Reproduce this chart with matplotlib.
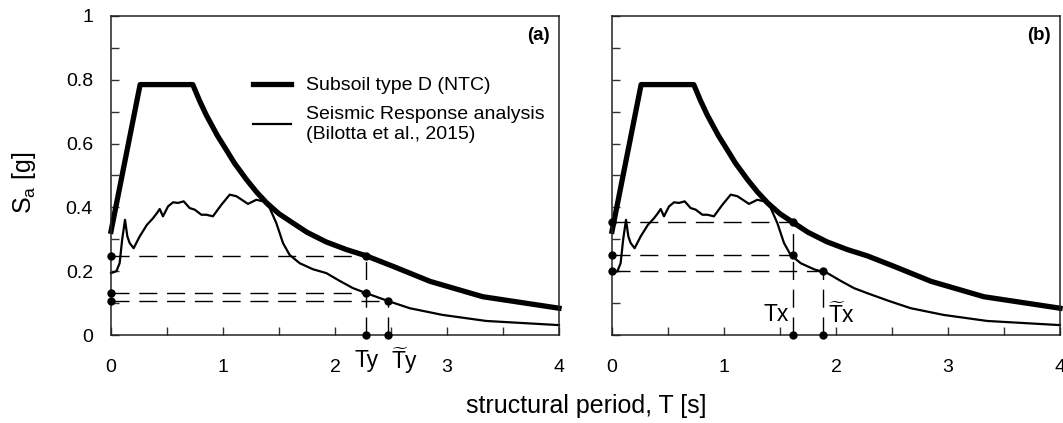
import matplotlib
matplotlib.use("Agg")
import matplotlib.pyplot as plt
from matplotlib.ticker import MultipleLocator, FixedLocator

plt.rcParams['font.family'] = ['Liberation Sans', 'DejaVu Sans']
plt.rcParams['mathtext.fontset'] = 'custom'
plt.rcParams['mathtext.rm'] = 'Liberation Sans'
plt.rcParams['mathtext.it'] = 'Liberation Sans'

# NTC design spectrum, subsoil type D
ntc_T = [0.0, 0.26, 0.73, 0.79, 0.85, 0.95, 1.03, 1.1, 1.21, 1.3, 1.39, 1.5, 1.62,
         1.75, 1.92, 2.1, 2.28, 2.52, 2.85, 3.32, 4.0]
ntc_Sa = [0.325, 0.785, 0.785, 0.735, 0.690, 0.625, 0.580, 0.540, 0.487, 0.448, 0.414,
          0.380, 0.352, 0.322, 0.292, 0.268, 0.248, 0.215, 0.168, 0.120, 0.084]

# Seismic response analysis (Bilotta et al., 2015)
sra_T = [0.0, 0.048, 0.077, 0.10, 0.125, 0.146, 0.167, 0.202, 0.256, 0.32, 0.375,
         0.41, 0.435, 0.464, 0.509, 0.554, 0.598, 0.649, 0.702, 0.747, 0.807,
         0.851, 0.91, 0.985, 1.06, 1.12, 1.223, 1.298, 1.357, 1.417, 1.476,
         1.536, 1.595, 1.685, 1.804, 1.923, 2.04, 2.16, 2.28, 2.47, 2.667,
         2.96, 3.35, 4.0]
sra_Sa = [0.194, 0.200, 0.225, 0.300, 0.361, 0.309, 0.288, 0.272, 0.309, 0.345,
          0.366, 0.382, 0.395, 0.372, 0.403, 0.416, 0.414, 0.419, 0.398, 0.393,
          0.377, 0.377, 0.372, 0.408, 0.440, 0.435, 0.411, 0.424, 0.419, 0.398,
          0.351, 0.288, 0.251, 0.225, 0.206, 0.194, 0.170, 0.147, 0.131, 0.107,
          0.084, 0.063, 0.044, 0.031]

# Panel (a): y-direction periods
Ty, Ty_t = 2.28, 2.47
Sa_ntc_Ty, Sa_sra_Ty, Sa_sra_Tyt = 0.248, 0.131, 0.107
# Panel (b): x-direction periods
Tx, Tx_t = 1.617, 1.88
Sa_ntc_Tx, Sa_sra_Tx, Sa_sra_Txt = 0.354, 0.252, 0.200

x_major = [0, 1, 2, 3, 4]
y_major = [0, 0.2, 0.4, 0.6, 0.8, 1.0]
y_labels = ['0', '0.2', '0.4', '0.6', '0.8', '1']

fig = plt.figure(figsize=(10.63, 4.23), dpi=100)
W, H = 1063, 423
ax_a = fig.add_axes([111 / W, (H - 335) / H, 448 / W, 319 / H])
ax_b = fig.add_axes([612 / W, (H - 335) / H, 448 / W, 319 / H])

dash_kw = dict(color='black', lw=1.0, dashes=(13, 7))
dot_kw = dict(marker='o', color='black', markersize=5, linestyle='none', clip_on=False, zorder=5)

for ax in (ax_a, ax_b):
    ax.plot(ntc_T, ntc_Sa, color='black', lw=3.8, solid_joinstyle='round',
            label='Subsoil type D (NTC)', clip_on=False)
    ax.plot(sra_T, sra_Sa, color='black', lw=1.6,
            label='Seismic Response analysis\n(Bilotta et al., 2015)', clip_on=False)
    ax.set_xlim(0, 4)
    ax.set_ylim(0, 1)
    ax.xaxis.set_major_locator(FixedLocator(x_major))
    ax.xaxis.set_minor_locator(MultipleLocator(0.5))
    ax.yaxis.set_major_locator(FixedLocator(y_major))
    ax.yaxis.set_minor_locator(MultipleLocator(0.1))
    ax.tick_params(which='both', direction='in', length=6, width=1.0, color='#333333',
                   labelsize=14)
    ax.tick_params(axis='x', which='major', pad=17)
    ax.tick_params(axis='y', which='major', pad=13)
    for s in ax.spines.values():
        s.set_linewidth(1.1)
        s.set_color('#222222')

ax_a.set_yticklabels(y_labels)
ax_b.set_yticklabels([])

# panel (a) guide lines
ax_a.plot([0, Ty], [Sa_ntc_Ty, Sa_ntc_Ty], **dash_kw)
ax_a.plot([0, Ty], [Sa_sra_Ty, Sa_sra_Ty], **dash_kw)
ax_a.plot([0, Ty_t], [Sa_sra_Tyt, Sa_sra_Tyt], **dash_kw)
ax_a.plot([Ty, Ty], [0, Sa_ntc_Ty], **dash_kw)
ax_a.plot([Ty_t, Ty_t], [0, Sa_sra_Tyt], **dash_kw)
ax_a.plot([0, 0, 0, Ty, Ty, Ty, Ty_t, Ty_t],
          [Sa_ntc_Ty, Sa_sra_Ty, Sa_sra_Tyt, 0, Sa_ntc_Ty, Sa_sra_Ty, 0, Sa_sra_Tyt], **dot_kw)
ax_a.text(Ty, -0.08, 'Ty', ha='center', va='center', fontsize=16.5, clip_on=False)
ax_a.text(Ty_t + 0.03, -0.08, r'$\widetilde{\mathrm{T}}$y', ha='left', va='center',
          fontsize=16.5, clip_on=False)
ax_a.text(0.98, 0.94, '(a)', transform=ax_a.transAxes, ha='right', va='center',
          fontsize=13.5, fontweight='bold')

# panel (b) guide lines
ax_b.plot([0, Tx], [Sa_ntc_Tx, Sa_ntc_Tx], **dash_kw)
ax_b.plot([0, Tx], [Sa_sra_Tx, Sa_sra_Tx], **dash_kw)
ax_b.plot([0, Tx_t], [Sa_sra_Txt, Sa_sra_Txt], **dash_kw)
ax_b.plot([Tx, Tx], [0, Sa_ntc_Tx], **dash_kw)
ax_b.plot([Tx_t, Tx_t], [0, Sa_sra_Txt], **dash_kw)
ax_b.plot([0, 0, 0, Tx, Tx, Tx, Tx_t, Tx_t],
          [Sa_ntc_Tx, Sa_sra_Tx, Sa_sra_Txt, 0, Sa_ntc_Tx, Sa_sra_Tx, 0, Sa_sra_Txt], **dot_kw)
ax_b.text(Tx - 0.04, 0.063, 'Tx', ha='right', va='center', fontsize=16.5)
ax_b.text(Tx_t + 0.05, 0.063, r'$\widetilde{\mathrm{T}}$x', ha='left', va='center', fontsize=16.5)
ax_b.text(0.98, 0.94, '(b)', transform=ax_b.transAxes, ha='right', va='center',
          fontsize=13.5, fontweight='bold')

ax_a.legend(loc='upper left', bbox_to_anchor=(0.295, 0.84), frameon=False, fontsize=14,
            handlelength=1.95, handletextpad=0.8, labelspacing=0.6, borderpad=0)

fig.text(586 / W, 1 - 406 / H, 'structural period, T [s]', ha='center', va='center', fontsize=18)
fig.text(24 / W, 1 - 183 / H, r'S$_\mathrm{a}$ [g]', ha='center', va='center', fontsize=18,
         rotation=90)

fig.savefig('out.png', dpi=100)
